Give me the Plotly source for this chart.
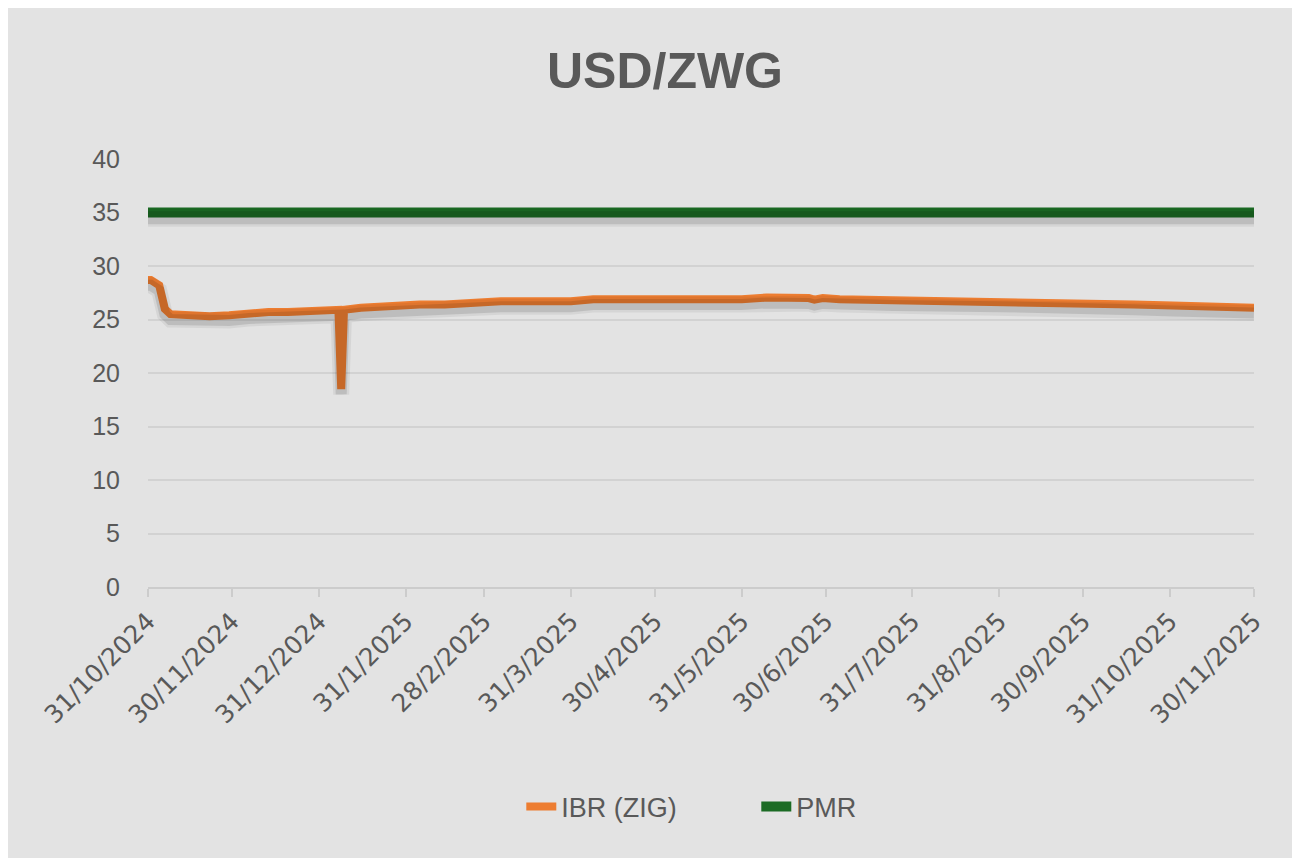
import plotly.graph_objects as go

# ---- data ----
ibr_dates = [
    "2024-10-31", "2024-11-01", "2024-11-04", "2024-11-06", "2024-11-08",
    "2024-11-15", "2024-11-22", "2024-11-29", "2024-12-06", "2024-12-13",
    "2024-12-20", "2024-12-27", "2025-01-03", "2025-01-07", "2025-01-08",
    "2025-01-09", "2025-01-15", "2025-01-22", "2025-01-29", "2025-02-03",
    "2025-02-05", "2025-02-14", "2025-02-21", "2025-03-06", "2025-03-31",
    "2025-04-08", "2025-05-31", "2025-06-09", "2025-06-24", "2025-06-26",
    "2025-06-29", "2025-07-05", "2025-07-24", "2025-08-31", "2025-09-18",
    "2025-09-30", "2025-10-18", "2025-11-01", "2025-11-30",
]
ibr_values = [
    28.7, 28.7, 28.2, 26.0, 25.5,
    25.4, 25.3, 25.4, 25.6, 25.7,
    25.7, 25.8, 25.9, 25.9, 18.5,
    25.9, 26.1, 26.2, 26.3, 26.5,
    26.4, 26.4, 26.5, 26.7, 26.7,
    26.9, 26.9, 27.05, 27.0, 26.85,
    27.0, 26.9, 26.8, 26.7, 26.5,
    26.6, 26.4, 26.3, 26.1,
]
pmr_dates = ["2024-10-31", "2025-11-30"]
pmr_values = [35, 35]

tick_dates = [
    "2024-10-31", "2024-11-30", "2024-12-31", "2025-01-31", "2025-02-28",
    "2025-03-31", "2025-04-30", "2025-05-31", "2025-06-30", "2025-07-31",
    "2025-08-31", "2025-09-30", "2025-10-31", "2025-11-30",
]
tick_labels = [
    "31/10/2024", "30/11/2024", "31/12/2024", "31/1/2025", "28/2/2025",
    "31/3/2025", "30/4/2025", "31/5/2025", "30/6/2025", "31/7/2025",
    "31/8/2025", "30/9/2025", "31/10/2025", "30/11/2025",
]

ORANGE = "#ED7D31"
GREEN = "#1B6B24"
TXT = "#595959"
FONT = "Liberation Sans, Arial, sans-serif"

fig = go.Figure()

# soft drop shadows drawn on a slightly shifted overlay axis
for w, a in [(16, 0.06), (11, 0.11)]:
    for xs, ys, lw in [(pmr_dates, pmr_values, w + 2), (ibr_dates, ibr_values, w)]:
        fig.add_trace(go.Scatter(
            x=xs, y=ys, mode="lines", yaxis="y2", showlegend=False,
            hoverinfo="skip", line=dict(color=f"rgba(0,0,0,{a})", width=lw),
        ))

fig.add_trace(go.Scatter(
    x=ibr_dates, y=ibr_values, mode="lines", name="IBR (ZIG)",
    line=dict(color=ORANGE, width=8),
))
fig.add_trace(go.Scatter(
    x=pmr_dates, y=pmr_values, mode="lines", name="PMR",
    line=dict(color=GREEN, width=10),
))

fig.update_layout(
    width=1292, height=850,
    margin=dict(l=140, r=46, t=151, b=271),
    paper_bgcolor="#e3e3e3",
    plot_bgcolor="rgba(0,0,0,0)",
    font=dict(family=FONT, color=TXT, size=20),
    title=dict(
        text="<b>USD/ZWG</b>", x=0.5085, xanchor="center", y=0.927, yanchor="middle",
        font=dict(size=50, color=TXT, family=FONT),
    ),
    xaxis=dict(
        type="date", range=["2024-10-31", "2025-11-30"],
        tickvals=tick_dates, ticktext=tick_labels, tickangle=-45,
        showgrid=False, showline=True, linecolor="#cccccc", linewidth=1.5,
        ticks="outside", ticklen=8, tickcolor="#cccccc", tickwidth=1.5,
        tickfont=dict(size=25, color=TXT, family="DejaVu Sans, sans-serif"),
        zeroline=False,
    ),
    yaxis=dict(
        range=[0, 40], tickvals=[0, 5, 10, 15, 20, 25, 30, 35, 40],
        showgrid=True, gridcolor="#d2d2d2", gridwidth=1.5, zeroline=False,
        tickfont=dict(size=25, color=TXT), ticklabelstandoff=27,
    ),
    yaxis2=dict(
        range=[0.5, 40.5], overlaying="y", visible=False, showgrid=False,
    ),
    legend=dict(
        orientation="h", x=0.55, xanchor="center", y=-0.514, yanchor="middle",
        font=dict(size=27, color=TXT), bgcolor="rgba(0,0,0,0)",
        traceorder="normal", entrywidth=190,
    ),
    showlegend=True,
)

fig.write_html("out.html")
